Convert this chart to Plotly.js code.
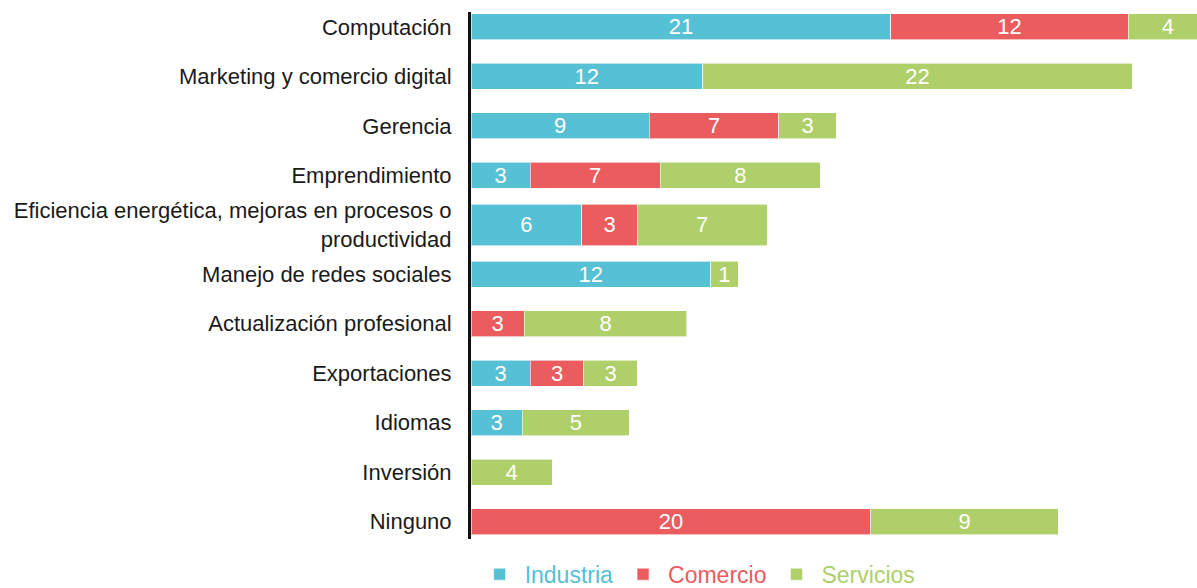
<!DOCTYPE html>
<html>
<head>
<meta charset="utf-8">
<script src="https://cdn.plot.ly/plotly-3.0.1.min.js"></script>
<style>
  html, body { margin: 0; padding: 0; background: #ffffff; }
  #chart { width: 1197px; height: 588px; }
</style>
</head>
<body>
<div id="chart"></div>
<script>
// Categories (top to bottom)
const categories = [
  "Computación",
  "Marketing y comercio digital",
  "Gerencia",
  "Emprendimiento",
  "Eficiencia energética, mejoras en procesos o<br>productividad",
  "Manejo de redes sociales",
  "Actualización profesional",
  "Exportaciones",
  "Idiomas",
  "Inversión",
  "Ninguno"
];

// Series values (labels show them rounded)
const industria = [21.2, 11.7, 9.0, 3.0, 5.6, 12.1, null, 3.0, 2.6, null, null];
const comercio  = [12.0, null, 6.55, 6.55, 2.8, null, 2.7, 2.7, null, null, 20.2];
const servicios = [4.0, 21.7, 2.9, 8.1, 6.55, 1.4, 8.2, 2.7, 5.4, 4.1, 9.45];

const seriesNames = ["Industria", "Comercio", "Servicios"];
const colors = ["#56C0D5", "#EB5C5F", "#AFCF6A"];

// Styling: the two-line category row has a taller bar
const barWidths = categories.map(c => c.indexOf("<br>") >= 0 ? 0.84 : 0.52);

const labelFont = {
  family: '"Liberation Sans Narrow", "Arial Narrow", "Liberation Sans", Arial, sans-serif',
  size: 22,
  color: "#ffffff"
};

function makeTrace(vals, i) {
  return {
    type: "bar",
    orientation: "h",
    x: vals,
    y: categories,
    width: barWidths,
    name: '<span style="color:' + colors[i] + '">' + seriesNames[i] + '</span>',
    marker: { color: colors[i], line: { color: "rgba(255,255,255,0.6)", width: 1 } },
    texttemplate: "%{x:.0f}",
    textposition: "inside",
    insidetextanchor: "middle",
    textangle: 0,
    constraintext: "none",
    textfont: labelFont,
    hoverinfo: "x+y"
  };
}

const data = [
  makeTrace(industria, 0),
  makeTrace(comercio, 1),
  makeTrace(servicios, 2)
];

const plotWidth = 726;
const pxPerUnit = 19.8;

const layout = {
  width: 1197,
  height: 588,
  barmode: "stack",
  paper_bgcolor: "#ffffff",
  plot_bgcolor: "#ffffff",
  margin: { l: 471, r: 0, t: 12, b: 49, pad: 0, autoexpand: false },
  xaxis: {
    range: [0, plotWidth / pxPerUnit],
    showgrid: false,
    zeroline: false,
    showticklabels: false,
    showline: false,
    ticks: ""
  },
  yaxis: {
    type: "category",
    range: [10.35, -0.3],
    showgrid: false,
    zeroline: false,
    showline: true,
    linecolor: "#111111",
    linewidth: 3,
    ticks: "",
    ticklabelstandoff: 12,
    tickfont: {
      family: '"Liberation Sans", Arial, sans-serif',
      size: 22,
      color: "#1a1a1a"
    }
  },
  showlegend: true,
  legend: {
    orientation: "h",
    x: 0.005,
    xanchor: "left",
    y: -0.026,
    yanchor: "top",
    traceorder: "normal",
    font: {
      family: '"Liberation Sans Narrow", "Arial Narrow", "Liberation Sans", Arial, sans-serif',
      size: 23
    },
    itemwidth: 40,
    bgcolor: "rgba(0,0,0,0)"
  }
};

Plotly.newPlot("chart", data, layout, { displayModeBar: false, staticPlot: true });
</script>
</body>
</html>
